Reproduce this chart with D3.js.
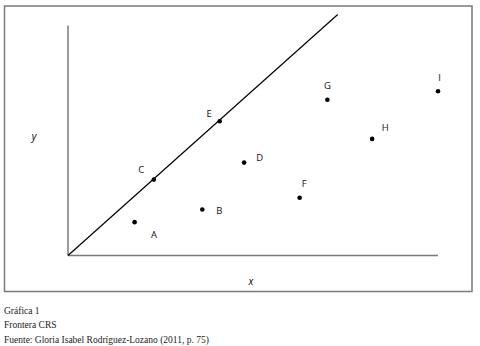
<!DOCTYPE html>
<html>
<head>
<meta charset="utf-8">
<script src="https://cdn.jsdelivr.net/npm/d3@7"></script>
<style>
  body { margin: 0; background: #fff; }
  svg { display: block; }
</style>
</head>
<body>
<div id="chart"></div>
<script>
// Units (DMUs) and their input/output values
const units = ["A", "B", "C", "D", "E", "F", "G", "H", "I"];
const xValues = [1.80, 3.63, 2.32, 4.76, 4.10, 6.26, 7.01, 8.22, 10.0];
const yValues = [1.45, 2.00, 3.30, 4.04, 5.84, 2.51, 6.77, 5.07, 7.14];

// CRS frontier: ray from the origin
const frontierX = [0, 7.29];
const frontierY = [0, 10.48];

const captionLines = [
  "Gráfica 1",
  "Frontera CRS",
  "Fuente: Gloria Isabel Rodríguez-Lozano (2011, p. 75)"
];

// label offsets around each point (pixels)
const labelOffset = {
  A: [19.5, 12.5], B: [17, 0.5], C: [-12.5, -10], D: [15.5, -5],
  E: [-10.5, -8], F: [4.5, -14], G: [0, -14], H: [13, -11], I: [1.5, -13.5]
};

const width = 480, height = 346;

const svg = d3.select("#chart").append("svg")
  .attr("width", width)
  .attr("height", height);

// Frame around the figure
svg.append("rect")
  .attr("x", 4.5).attr("y", 6)
  .attr("width", 467.5).attr("height", 285.5)
  .attr("fill", "none")
  .attr("stroke", "#7a7a7a")
  .attr("stroke-width", 1.5);

const x = d3.scaleLinear().domain([0, 10]).range([68, 438]);
const y = d3.scaleLinear().domain([0, 10]).range([255.5, 25.5]);

// Axes (plain lines, no ticks)
svg.append("line")
  .attr("x1", x(0)).attr("x2", x(0))
  .attr("y1", y(0)).attr("y2", y(10))
  .attr("stroke", "#7a7a7a").attr("stroke-width", 1.5);

svg.append("line")
  .attr("x1", x(0)).attr("x2", x(10))
  .attr("y1", y(0)).attr("y2", y(0))
  .attr("stroke", "#7a7a7a").attr("stroke-width", 1.5);

// Frontier
const line = d3.line().x((d) => x(d[0])).y((d) => y(d[1]));
svg.append("path")
  .datum(d3.zip(frontierX, frontierY))
  .attr("d", line)
  .attr("fill", "none")
  .attr("stroke", "#000")
  .attr("stroke-width", 1.2);

// Points
const points = units.map((u, i) => ({ name: u, x: xValues[i], y: yValues[i] }));

svg.selectAll("circle.pt")
  .data(points)
  .join("circle")
  .attr("class", "pt")
  .attr("cx", (d) => x(d.x))
  .attr("cy", (d) => y(d.y))
  .attr("r", 2.3)
  .attr("fill", "#000");

svg.selectAll("text.lbl")
  .data(points)
  .join("text")
  .attr("class", "lbl")
  .attr("x", (d) => x(d.x) + labelOffset[d.name][0])
  .attr("y", (d) => y(d.y) + labelOffset[d.name][1])
  .attr("text-anchor", "middle")
  .attr("dominant-baseline", "central")
  .attr("font-family", "'Open Sans', sans-serif")
  .attr("font-size", 9.5)
  .attr("fill", "#111")
  .text((d) => d.name);

// Axis titles
svg.append("text")
  .attr("x", 34).attr("y", 136)
  .attr("text-anchor", "middle")
  .attr("dominant-baseline", "central")
  .attr("font-family", "'Open Sans', sans-serif")
  .attr("font-style", "italic")
  .attr("font-size", 10)
  .text("y");

svg.append("text")
  .attr("x", 251).attr("y", 281)
  .attr("text-anchor", "middle")
  .attr("dominant-baseline", "central")
  .attr("font-family", "'Open Sans', sans-serif")
  .attr("font-style", "italic")
  .attr("font-size", 10)
  .text("x");

// Caption below the frame
svg.selectAll("text.cap")
  .data(captionLines)
  .join("text")
  .attr("class", "cap")
  .attr("x", 4)
  .attr("y", (d, i) => 314 + i * 14.3)
  .attr("font-family", "'Liberation Serif', serif")
  .attr("font-size", 9.5)
  .attr("fill", "#222")
  .text((d) => d);
</script>
</body>
</html>
